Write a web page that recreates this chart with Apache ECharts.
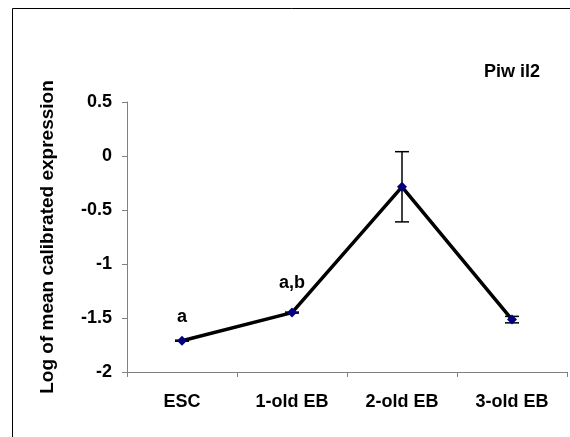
<!DOCTYPE html>
<html><head><meta charset="utf-8">
<script src="https://cdn.jsdelivr.net/npm/echarts@6/dist/echarts.min.js"></script>
<style>html,body{margin:0;padding:0;background:#fff}#c{width:570px;height:437px}</style>
</head><body><div id="c"></div>
<script>
var categories = ['ESC', '1-old EB', '2-old EB', '3-old EB'];
var meanValues = [-1.71, -1.45, -0.285, -1.515];
var errorValues = [0.005, 0.005, 0.325, 0.03];
var pointLabels = ['a', 'a,b', '', ''];
var yTicks = [-2, -1.5, -1, -0.5, 0, 0.5];
var titleText = 'Piw il2';
var yAxisTitle = 'Log of mean calibrated expression';

var chart = echarts.init(document.getElementById('c'), null, {renderer: 'canvas'});
var font = 'Liberation Sans, Arial, sans-serif';
var labelDist = [10, 16, 0, 0];
var errData = meanValues.map(function (v, i) { return [i, v - errorValues[i], v + errorValues[i]]; });
var lineData = meanValues.map(function (v, i) {
  return {value: v, label: {show: pointLabels[i] !== '', formatter: pointLabels[i], position: 'top', distance: labelDist[i],
    fontFamily: font, fontWeight: 'bold', fontSize: 18, color: '#000'}};
});
chart.setOption({
  animation: false,
  graphic: [{type: 'rect', shape: {x: 12.5, y: 8.5, width: 600, height: 500}, style: {fill: 'none', stroke: '#000', lineWidth: 1}, silent: true},
    {type: 'text', left: 484, top: 63, style: {text: titleText, font: 'bold 18px ' + font, fill: '#000'}}],
  grid: {left: 127, right: 3, top: 102, bottom: 65},
  xAxis: {
    type: 'category', data: categories, boundaryGap: true,
    axisLine: {onZero: false, lineStyle: {color: '#808080', width: 1}},
    axisTick: {show: true, inside: false, length: 5, lineStyle: {color: '#808080'}},
    axisLabel: {margin: 21, fontFamily: font, fontWeight: 'bold', fontSize: 18, color: '#000'},
    splitLine: {show: false}
  },
  yAxis: {
    type: 'value', min: -2, max: 0.5, interval: 0.5,
    name: yAxisTitle, nameLocation: 'middle', nameGap: 70, nameRotate: 90,
    nameTextStyle: {fontFamily: font, fontWeight: 'bold', fontSize: 19, color: '#000'},
    axisLine: {show: true, lineStyle: {color: '#808080', width: 1}},
    axisTick: {show: true, inside: false, length: 5, lineStyle: {color: '#808080'}},
    axisLabel: {margin: 15, fontFamily: font, fontWeight: 'bold', fontSize: 18, color: '#000',
      formatter: function (v) { return yTicks.indexOf(v) >= 0 ? String(v) : ''; }},
    splitLine: {show: false}
  },
  series: [
    {type: 'custom', z: 3, data: errData,
      renderItem: function (params, api) {
        var x = api.value(0);
        var lo = api.coord([x, api.value(1)]);
        var hi = api.coord([x, api.value(2)]);
        var h = 7;
        var st = {stroke: '#000', lineWidth: 1.5};
        return {type: 'group', children: [
          {type: 'line', shape: {x1: lo[0], y1: lo[1], x2: hi[0], y2: hi[1]}, style: st},
          {type: 'line', shape: {x1: lo[0] - h, y1: lo[1], x2: lo[0] + h, y2: lo[1]}, style: st},
          {type: 'line', shape: {x1: hi[0] - h, y1: hi[1], x2: hi[0] + h, y2: hi[1]}, style: st}
        ]};
      }},
    {type: 'line', z: 4, data: lineData, symbol: 'diamond', symbolSize: 10,
      lineStyle: {color: '#000', width: 3.5},
      itemStyle: {color: '#000080'}}
  ]
});
</script></body></html>
